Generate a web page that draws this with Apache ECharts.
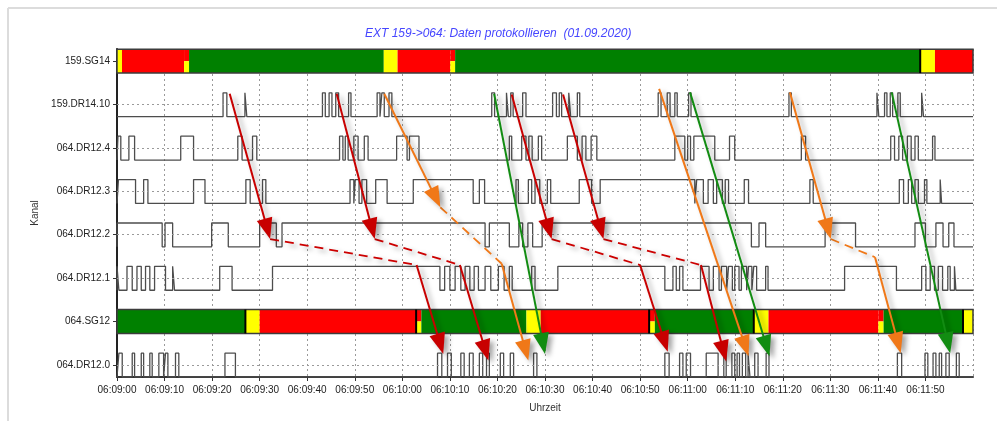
<!DOCTYPE html>
<html lang="de">
<head>
<meta charset="UTF-8">
<title>EXT 159->064</title>
<script src="https://cdn.jsdelivr.net/npm/echarts@6/dist/echarts.min.js"></script>
<style>
    html,body{margin:0;padding:0;background:#fff;}
    #chart{width:997px;height:421px;}
</style>
</head>
<body>
<div id="chart"></div>
<script>
// rows from bottom (0) to top (7)
var rowNames = ['064.DR12.0','064.SG12','064.DR12.1','064.DR12.2','064.DR12.3','064.DR12.4','159.DR14.10','159.SG14'];

// x = seconds after 06:09:00
// status bars: [from, to, state]  g=green r=red y=yellow ry=red/yellow
var sg14Segs = [[0,1.05,'y'],[1.05,14.1,'r'],[14.1,15.15,'ry'],[15.15,56.1,'g'],[56.1,59.0,'y'],[59.0,70.1,'r'],
    [70.1,71.1,'ry'],[71.1,168.9,'g'],[168.9,172.0,'y'],[172.0,180,'r']];
var sg12Segs = [[0,27.0,'g'],[27.0,30.0,'y'],[30.0,62.9,'r'],[62.9,64.0,'ry'],[64.0,86.1,'g'],[86.1,89.1,'y'],
    [89.1,111.9,'r'],[111.9,113.1,'ry'],[113.1,133.9,'g'],[133.9,137.0,'y'],[137.0,160.1,'r'],[160.1,161.2,'ry'],
    [161.2,177.9,'g'],[177.9,180,'y']];
var sg14Marks = [168.9];
var sg12Marks = [27.0,62.9,111.9,133.9,177.9];

// digital signals: high pulses [from, to]
var dr1410 = [[22.3,23.1],[26.9,27.3],[43.2,43.8],[44.6,45.2],[46.0,46.6],[48.7,49.2],[54.7,55.3],[55.7,56.2],
    [57.2,57.8],[78.8,79.4],[81.9,82.3],[82.8,83.3],[85.3,86.0],[91.6,92.4],[93.0,93.5],[95.0,95.4],[96.8,97.3],
    [113.8,114.4],[115.7,116.3],[117.3,117.8],[120.2,120.7],[141.3,141.8],[159.8,160.2],[161.4,161.9],
    [162.6,163.1],[164.2,164.7],[169.2,169.6]];
var dr124 = [[0.2,0.8],[2.5,3.7],[13.4,16.1],[25.4,26.3],[28.5,29.4],[46.8,47.5],[48.0,48.6],[49.8,50.7],
    [52.0,52.8],[58.8,61.0],[61.5,63.5],[82.5,83.0],[85.1,86.0],[86.6,87.3],[88.6,89.3],[94.7,96.8],[97.8,98.6],
    [99.7,100.9],[117.3,119.4],[120.0,120.6],[121.3,125.7],[128.8,129.9],[143.9,144.8],[162.7,163.5],
    [164.4,165.2],[166.2,167.0],[167.8,168.5],[171.5,172.0]];
var dr123 = [[0.3,3.9],[5.6,6.5],[16.1,18.5],[27.1,28.0],[30.6,31.3],[49.0,49.8],[50.1,50.9],[51.5,52.5],
    [54.4,56.8],[62.3,74.9],[76.2,77.3],[83.9,84.4],[86.5,87.2],[87.9,88.9],[90.5,91.2],[97.2,99.8],
    [101.6,121.5],[121.9,123.3],[124.3,125.4],[126.1,127.3],[127.9,128.6],[131.9,132.8],[145.7,146.4],
    [164.5,165.4],[166.4,167.1],[167.8,168.5],[169.8,170.3],[173.1,173.4]];
var dr122 = [[0,9.5],[10.1,11.7],[19.9,23.4],[30.0,33.5],[34.7,77.4],[78.3,82.5],[84.5,85.3],[86.4,87.4],
    [89.4,133.4],[135.0,136.4],[148.9,155.3],[167.8,170.0],[172.2,173.7],[174.9,176.0]];
var dr121 = [[0,0.4],[2.1,3.2],[4.2,5.1],[6.0,6.9],[7.9,10.2],[11.7,12.1],[21.6,24.2],[32.7,67.9],[68.9,70.0],
    [71.1,72.3],[73.2,74.2],[75.1,76.0],[77.4,78.6],[80.2,81.4],[82.5,83.1],[87.2,87.9],[92.7,115.2],
    [116.9,117.6],[118.3,119.0],[122.7,124.5],[125.4,126.6],[127.1,128.2],[128.6,129.4],[129.9,130.8],
    [131.3,132.4],[132.8,133.5],[133.9,134.5],[136.4,136.9],[153.0,163.9],[169.2,170.1],[171.0,171.9],
    [172.7,173.6],[174.7,175.2],[176.1,176.4]];
var dr120 = [[0.4,1.1],[3.2,3.7],[5.1,5.6],[6.9,7.4],[8.8,9.8],[10.2,10.7],[12.3,13.0],[22.7,24.9],[67.4,68.3],
    [69.5,70.3],[72.3,73.0],[74.1,74.9],[76.2,76.9],[77.7,78.3],[80.6,81.3],[82.7,83.4],[87.6,88.3],
    [115.2,116.1],[118.3,119.0],[119.7,120.6],[123.9,126.4],[127.6,128.1],[129.3,129.9],[130.4,130.9],
    [131.5,132.2],[132.7,133.1],[134.1,134.8],[136.5,137.1],[164.1,165.0],[169.9,170.5],[171.6,172.2],
    [172.9,173.4],[174.3,175.0],[176.5,177.1]];

// arrows / dashed links: [t1, row1, t2, row2]
var redArrows = [[23.7,6.25,32.2,2.9],[46.2,6.25,54.2,2.9],[83.0,6.23,91.4,2.9],[93.8,6.23,102.3,2.9],
    [63.0,2.3,68.6,0.25],[72.1,2.3,78.1,0.1],[110.0,2.3,115.8,0.3],[122.8,2.3,128.1,0.08]];
var redDashes = [[32.2,2.9,63.0,2.3],[54.2,2.9,72.1,2.3],[91.4,2.9,110.0,2.3],[102.3,2.9,122.8,2.3]];
var orangeArrows = [[56.2,6.25,68.0,3.63],[80.9,2.33,86.5,0.1],[114.0,6.36,132.8,0.2],[141.5,6.28,150.1,2.9],
    [159.4,2.48,164.8,0.27]];
var orangeDashes = [[68.0,3.63,80.9,2.33],[150.1,2.9,159.4,2.48]];
var greenArrows = [[79.3,6.25,90.0,0.25],[120.5,6.28,137.2,0.2],[162.9,6.28,175.2,0.27]];

var FONT = 'Liberation Sans';
var HI = 0.27, LO = 0.28, BAND = 0.275;
var stateColor = {g:'#008000', r:'#ff0000', y:'#ffff00'};
var shadow = {shadowBlur:5, shadowColor:'rgba(0,0,0,0.35)', shadowOffsetX:4, shadowOffsetY:3};

function pad(n){ return (n < 10 ? '0' : '') + n; }
function timeLabel(v){
    var s = 9 * 60 + Math.round(v);
    return '06:' + pad(Math.floor(s / 60)) + ':' + pad(s % 60);
}

function barSeries(segs, row){
    return {
        type:'custom', z:2, silent:true, animation:false,
        data: segs.map(function(s){ return [s[0], s[1]]; }),
        encode:{x:[0,1]},
        renderItem:function(params, api){
            var s = segs[params.dataIndex];
            var p1 = api.coord([s[0], row + BAND]), p2 = api.coord([s[1], row - BAND]);
            var w = p2[0] - p1[0], h = p2[1] - p1[1];
            if (s[2] === 'ry') {
                return {type:'group', children:[
                    {type:'rect', shape:{x:p1[0], y:p1[1], width:w, height:h / 2}, style:{fill:stateColor.r}},
                    {type:'rect', shape:{x:p1[0], y:p1[1] + h / 2, width:w, height:h / 2}, style:{fill:stateColor.y}}
                ]};
            }
            return {type:'rect', shape:{x:p1[0], y:p1[1], width:w, height:h}, style:{fill:stateColor[s[2]]}};
        }
    };
}

function bandFrame(marks, row){
    return {
        type:'custom', z:2.5, silent:true, animation:false,
        data: [[0, 180]].concat(marks.map(function(t){ return [t, t]; })),
        encode:{x:[0,1]},
        renderItem:function(params, api){
            var a = api.value(0), b = api.value(1);
            var p1 = api.coord([a, row + BAND]), p2 = api.coord([b, row - BAND]);
            if (params.dataIndex === 0) {
                return {type:'rect', shape:{x:p1[0], y:p1[1], width:p2[0] - p1[0], height:p2[1] - p1[1]},
                    style:{fill:'none', stroke:'#3c3c3c', lineWidth:1.5}};
            }
            return {type:'line', shape:{x1:p1[0], y1:p1[1], x2:p1[0], y2:p2[1]},
                style:{stroke:'#000', lineWidth:2}};
        }
    };
}

function signalSeries(pulses, row){
    var d = [[0, row - LO]];
    pulses.forEach(function(p){
        d.push([p[0], row - LO], [p[0], row + HI], [p[1], row + HI], [p[1], row - LO]);
    });
    d.push([180, row - LO]);
    return {
        type:'line', z:3, silent:true, animation:false, data:d,
        symbol:'none', showSymbol:false,
        lineStyle:{color:'#4d4d4d', width:1.3},
        markLine:{
            silent:true, symbol:['none','none'], label:{show:false}, animation:false,
            lineStyle:{color:'#9a9a9a', width:1, type:[2,3]},
            data:[{yAxis:row}]
        }
    };
}

function arrowSeries(list, color, dashed){
    return {
        type:'custom', z:5, silent:true, animation:false,
        data: list.map(function(a){ return a.slice(); }),
        encode:{x:[0,2], y:[1,3]},
        renderItem:function(params, api){
            var a = list[params.dataIndex];
            var p1 = api.coord([a[0], a[1]]), p2 = api.coord([a[2], a[3]]);
            if (dashed) {
                return {type:'line', shape:{x1:p1[0], y1:p1[1], x2:p2[0], y2:p2[1]},
                    style:Object.assign({stroke:color, lineWidth:1.8, lineDash:[9,6]}, shadow)};
            }
            var dx = p2[0] - p1[0], dy = p2[1] - p1[1];
            var L = Math.sqrt(dx * dx + dy * dy), ux = dx / L, uy = dy / L;
            var len = 21, hw = 8;
            var bx = p2[0] - ux * len, by = p2[1] - uy * len;
            return {type:'group', children:[
                {type:'line', shape:{x1:p1[0], y1:p1[1], x2:bx + ux * 2, y2:by + uy * 2},
                    style:Object.assign({stroke:color, lineWidth:2}, shadow)},
                {type:'polygon', shape:{points:[[p2[0], p2[1]], [bx - uy * hw, by + ux * hw], [bx + uy * hw, by - ux * hw]]},
                    style:Object.assign({fill:color}, shadow)}
            ]};
        }
    };
}

var rowTicks = [0,1,2,3,4,5,6,7];
var chart = echarts.init(document.getElementById('chart'), null, {renderer:'canvas'});
var option = {
    animation:false,
    backgroundColor:'#fff',
    title:{
        text:'EXT 159->064: Daten protokollieren  (01.09.2020)',
        left:365, top:28, padding:0,
        textStyle:{fontSize:12, fontStyle:'italic', fontWeight:'normal', color:'#4646ff', fontFamily:FONT}
    },
    graphic:[
        {type:'line', shape:{x1:8, y1:8, x2:997, y2:8}, style:{stroke:'#dcdcdc', lineWidth:2}},
        {type:'line', shape:{x1:8, y1:8, x2:8, y2:421}, style:{stroke:'#dcdcdc', lineWidth:2}}
    ],
    grid:{left:117, right:24, top:49, bottom:44, containLabel:false, outerBoundsMode:'none'},
    xAxis:{
        type:'value', min:0, max:180, interval:10,
        name:'Uhrzeit', nameLocation:'middle', nameGap:26,
        nameTextStyle:{fontSize:10, color:'#333', fontFamily:FONT},
        axisLine:{onZero:false, lineStyle:{color:'#333', width:2}},
        axisTick:{show:true, length:4, lineStyle:{color:'#333'}},
        axisLabel:{fontSize:10, color:'#222', fontFamily:FONT, margin:8, showMaxLabel:false, formatter:timeLabel},
        splitLine:{show:true, lineStyle:{color:'#9a9a9a', width:1, type:[2,3]}}
    },
    yAxis:{
        type:'value', min:-0.28, max:7.28,
        name:'Kanal', nameLocation:'middle', nameGap:72,
        nameTextStyle:{fontSize:10, color:'#333', fontFamily:FONT},
        axisLine:{show:true, onZero:false, lineStyle:{color:'#222', width:2}},
        axisTick:{show:true, length:4, customValues:rowTicks, lineStyle:{color:'#333'}},
        axisLabel:{customValues:rowTicks, fontSize:10, color:'#222', fontFamily:FONT, margin:7,
            formatter:function(v){ return rowNames[Math.round(v)]; }},
        splitLine:{show:false}
    },
    series:[
        barSeries(sg14Segs, 7),
        barSeries(sg12Segs, 1),
        bandFrame(sg14Marks, 7),
        bandFrame(sg12Marks, 1),
        signalSeries(dr1410, 6),
        signalSeries(dr124, 5),
        signalSeries(dr123, 4),
        signalSeries(dr122, 3),
        signalSeries(dr121, 2),
        signalSeries(dr120, 0),
        arrowSeries(redDashes, '#cc0000', true),
        arrowSeries(orangeDashes, '#f07818', true),
        arrowSeries(redArrows, '#c80000', false),
        arrowSeries(orangeArrows, '#f07818', false),
        arrowSeries(greenArrows, '#128c12', false)
    ]
};
chart.setOption(option);
</script>
</body>
</html>
